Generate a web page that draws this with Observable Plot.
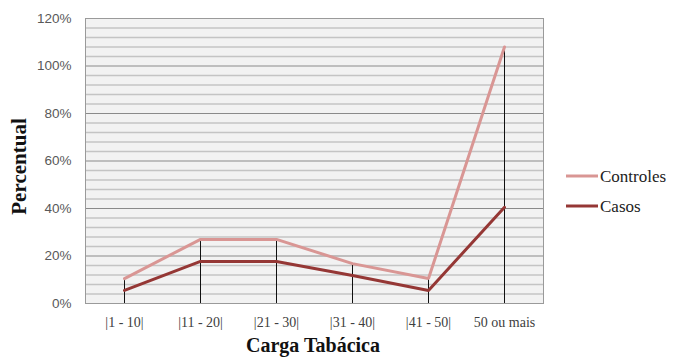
<!DOCTYPE html>
<html>
<head>
<meta charset="utf-8">
<script src="https://cdn.jsdelivr.net/npm/d3@7"></script>
<script src="https://cdn.jsdelivr.net/npm/@observablehq/plot@0.6"></script>
<style>
  html, body { margin: 0; padding: 0; background: #fff; }
  #chart { position: relative; width: 674px; height: 358px; }
</style>
</head>
<body>
<div id="chart"></div>
<script>
const categories = ["|1 - 10|", "|11 - 20|", "|21 - 30|", "|31 - 40|", "|41 - 50|", "50 ou mais"];
const controles = [10.5, 27, 27, 16.8, 10.5, 108];
const casos = [5.5, 17.7, 17.7, 11.8, 5.5, 40.5];
const seriesNames = ["Controles", "Casos"];
const seriesColors = ["#d99694", "#953735"];
const yTicks = [0, 20, 40, 60, 80, 100, 120];
const minorTicks = d3.range(0, 121, 4);

const rows = [];
categories.forEach((c, i) => {
  rows.push({cat: c, series: "Controles", v: controles[i]});
  rows.push({cat: c, series: "Casos", v: casos[i]});
});
const drops = categories.map((c, i) => ({cat: c, top: Math.max(controles[i], casos[i])}));

const W = 674, H = 358;
const mL = 85, mR = 131, mT = 18, mB = 55;

const plot = Plot.plot({
  width: W,
  height: H,
  marginLeft: mL,
  marginRight: mR,
  marginTop: mT,
  marginBottom: mB,
  style: {background: "transparent", overflow: "visible"},
  x: {type: "point", domain: categories, padding: 0.5, label: null},
  y: {domain: [0, 120], label: null},
  color: {domain: seriesNames, range: seriesColors},
  marks: [
    Plot.frame({fill: "#f2f2f2", stroke: "none"}),
    Plot.ruleY(minorTicks.filter(d => d % 20 !== 0), {stroke: "#c4c4c4", strokeWidth: 1.3}),
    Plot.ruleY(yTicks, {stroke: "#8a8a8a", strokeWidth: 1}),
    Plot.frame({stroke: "#9a9a9a", fill: "none"}),
    Plot.ruleX(drops, {x: "cat", y1: 0, y2: "top", stroke: "#111", strokeWidth: 1}),
    Plot.lineY(rows, {x: "cat", y: "v", z: "series", stroke: "series", strokeWidth: 3, strokeLinejoin: "miter"}),
    Plot.axisY(yTicks, {tickSize: 0, tickPadding: 14, tickFormat: d => d + "%", fontSize: 13.5, fill: "#595959", fontFamily: "Liberation Sans, Arial, sans-serif"}),
    Plot.axisX({tickSize: 0, tickPadding: 14, fontSize: 14, fill: "#404040", fontFamily: "Liberation Serif, Times New Roman, serif"})
  ]
});
document.getElementById("chart").appendChild(plot);

// Axis titles and legend
const svg = d3.select(plot);
const serif = "Liberation Serif, Times New Roman, serif";
svg.append("text")
  .attr("transform", `translate(26, ${mT + (H - mT - mB) / 2 + 6}) rotate(-90)`)
  .attr("text-anchor", "middle")
  .attr("font-family", serif).attr("font-weight", "bold").attr("font-size", 21)
  .attr("fill", "#111")
  .text("Percentual");
svg.append("text")
  .attr("x", 313).attr("y", 352)
  .attr("text-anchor", "middle")
  .attr("font-family", serif).attr("font-weight", "bold").attr("font-size", 20)
  .attr("fill", "#111")
  .text("Carga Tabácica");

const leg = svg.append("g");
seriesNames.forEach((name, i) => {
  const y = 176 + i * 30;
  leg.append("line").attr("x1", 566).attr("x2", 598).attr("y1", y).attr("y2", y)
    .attr("stroke", seriesColors[i]).attr("stroke-width", 3);
  leg.append("text").attr("x", 600).attr("y", y).attr("dy", "0.35em")
    .attr("text-anchor", "start")
    .attr("font-family", serif).attr("font-size", 17).attr("fill", "#222")
    .text(name);
});
</script>
</body>
</html>
